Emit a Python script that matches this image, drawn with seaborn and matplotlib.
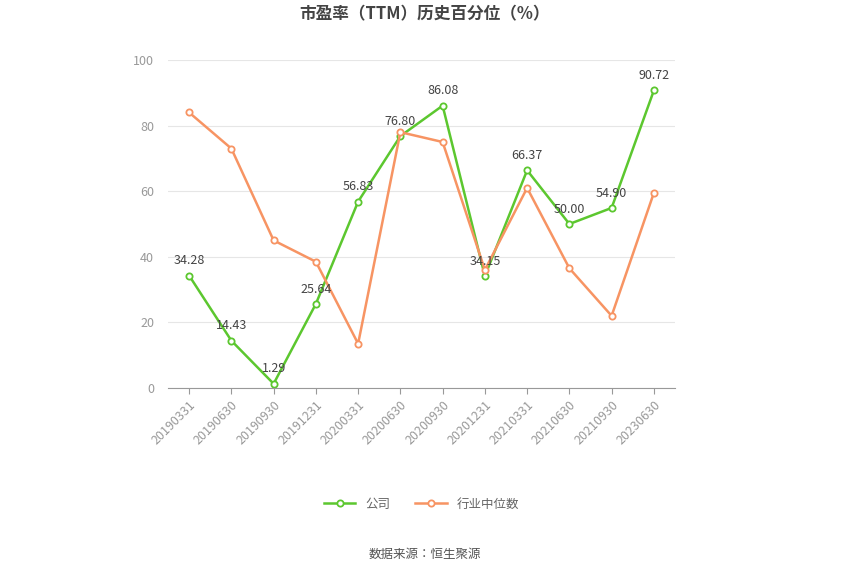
import matplotlib
matplotlib.use("Agg")
import matplotlib.pyplot as plt
from matplotlib import font_manager
import seaborn as sns
import pandas as pd

dates = ["20190331","20190630","20190930","20191231","20200331","20200630",
         "20200930","20201231","20210331","20210630","20210930","20230630"]
company = [34.28,14.43,1.29,25.64,56.83,76.80,86.08,34.15,66.37,50.00,54.90,90.72]
industry = [84,73,45,38.5,13.5,78,75,36,61,36.5,22,59.5]

cjk = None
for f in font_manager.findSystemFonts():
    if "CJK" in f and ("SC" in f or "Sans" in f):
        try:
            font_manager.fontManager.addfont(f)
        except Exception:
            pass
names = [f.name for f in font_manager.fontManager.ttflist if "CJK" in f.name]
fam = [n for n in ["Noto Sans CJK SC", "Noto Sans CJK JP"] if n in names] or names[:1]
plt.rcParams["font.family"] = fam + ["DejaVu Sans"]

fig = plt.figure(figsize=(8.5,5.75), dpi=100)
ax = fig.add_axes([168/850, 1-388/575, (675-168)/850, 328/575])
df = pd.DataFrame({"x": range(len(dates)), "c": company, "i": industry})
green = "#5cc72f"; orange = "#f79463"
sns.lineplot(data=df, x="x", y="c", ax=ax, color=green, lw=1.8, marker="o",
             markersize=4.5, markerfacecolor="white", markeredgecolor=green, markeredgewidth=1.3, label="公司")
sns.lineplot(data=df, x="x", y="i", ax=ax, color=orange, lw=1.8, marker="o",
             markersize=4.5, markerfacecolor="white", markeredgecolor=orange, markeredgewidth=1.3, label="行业中位数")
for xi, v in enumerate(company):
    ax.annotate(f"{v:.2f}", (xi, v), xytext=(0, 6), textcoords="offset points",
                ha="center", va="bottom", fontsize=9, color="#444444")
ax.set_xlim(-0.5, len(dates)-0.5)
ax.set_ylim(0, 100)
ax.set_yticks(range(0, 101, 20))
ax.set_xticks(range(len(dates)))
ax.set_xticklabels(dates, rotation=45, ha="right", rotation_mode="anchor", fontsize=9, color="#999999")
ax.tick_params(axis="y", labelsize=9, colors="#999999", length=0, pad=10)
ax.tick_params(axis="x", length=4, color="#999999")
ax.grid(axis="y", color="#e6e6e6", lw=0.8)
ax.set_axisbelow(True)
for s in ["top", "right", "left"]:
    ax.spines[s].set_visible(False)
ax.spines["bottom"].set_color("#999999")
ax.set_xlabel(""); ax.set_ylabel("")
ax.legend(loc="upper center", bbox_to_anchor=(0.5, -0.3), ncol=2, frameon=False,
          fontsize=9, labelcolor="#666666", handlelength=2.5)
fig.text(0.5, 1-14/575, "市盈率（TTM）历史百分位（%）", ha="center", va="center",
         fontsize=12, fontweight="bold", color="#444444")
fig.text(0.5, 1-554/575, "数据来源：恒生聚源", ha="center", va="center", fontsize=9, color="#555555")
fig.savefig("out.png", dpi=100)
